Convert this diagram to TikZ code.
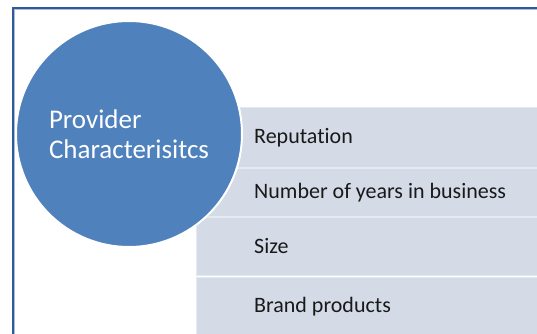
\documentclass[tikz,border=0pt]{standalone}
\usepackage{fontspec}
\setmainfont{Carlito}[Ligatures=NoCommon]
\usepackage{xcolor}
\usetikzlibrary{positioning}

\definecolor{frameblue}{HTML}{2F5A96}
\definecolor{framelight}{HTML}{A9BEDC}
\definecolor{circblue}{HTML}{4F81BD}
\definecolor{rowgray}{HTML}{D4DBE7}

\tikzset{
	rowbox/.style={rectangle, fill=rowgray, draw=rowgray!60!white, line width=0.8pt,
		minimum width=350pt, inner sep=0pt},
	rowtext/.style={inner sep=0pt, text=black!90, font=\fontsize{22}{25}\selectfont},
	bigcirc/.style={circle, fill=circblue, draw=white, line width=2pt, minimum size=226pt,
		inner sep=0pt, align=left, text=white, font=\fontsize{27}{30}\selectfont}
}

\begin{document}
\begin{tikzpicture}[x=1pt,y=-1pt]
		\clip (0,0) rectangle (537,333);
		\draw[frameblue, line width=1.3pt] (13,340) -- (13,8) -- (545,8);
		\draw[framelight, line width=0.8pt] (14.8,340) -- (14.8,9.8) -- (545,9.8);
		\node[rowbox, minimum height=60pt, anchor=north west] (r1) at (196,107) {};
		\node[rowbox, minimum height=48pt, below=0pt of r1] (r2) {};
		\node[rowbox, minimum height=58pt, below=0pt of r2] (r3) {};
		\node[rowbox, minimum height=58pt, below=2pt of r3] (r4) {};
		\node[rowtext, right=58pt of r1.west] (t1) {Reputation};
		\node[rowtext, right=58pt of r2.west] (t2) {Number of years in business};
		\node[rowtext, right=58pt of r3.west] (t3) {Size};
		\node[rowtext, right=58pt of r4.west] (t4) {Brand products};
		\node[bigcirc] (pc) at (129,134) {Provider\\Characterisitcs};
	\end{tikzpicture}
\end{document}
